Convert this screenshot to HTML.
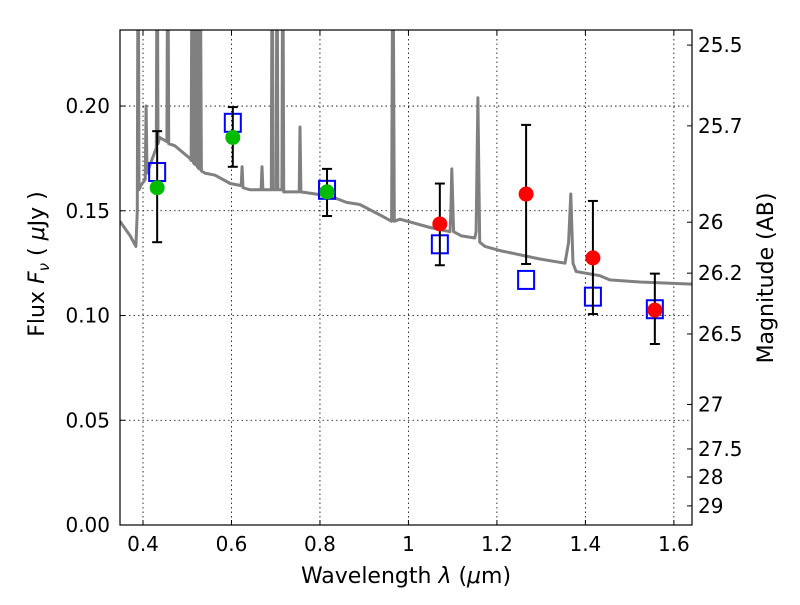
<!DOCTYPE html>
<html><head><meta charset="utf-8"><style>
body{margin:0;background:#fff;}
svg text{font-family:"DejaVu Sans","Liberation Sans",sans-serif;fill:#000;}
</style></head><body>
<svg id="chart" width="800" height="600" xmlns="http://www.w3.org/2000/svg">
<defs><clipPath id="clip"><rect x="120" y="30" width="572" height="495"/></clipPath></defs>
<rect x="120" y="30" width="572" height="495" fill="#fff"/>
<g id="grid"></g>
<g id="spec" clip-path="url(#clip)"></g>
<g id="marks" clip-path="url(#clip)"></g>
<rect x="120" y="30" width="572" height="495" fill="none" stroke="#000" stroke-width="1.2"/>
<g id="axes"></g>
<text x="406" y="583" font-size="22" text-anchor="middle">Wavelength  <tspan font-style="italic">λ</tspan> (<tspan font-style="italic">μ</tspan>m)</text>
<text transform="translate(44,264) rotate(-90)" font-size="22" text-anchor="middle">Flux  <tspan font-style="italic">F</tspan><tspan font-style="italic" font-size="15" dy="5">ν</tspan><tspan dy="-5">  (  </tspan><tspan font-style="italic">μ</tspan>Jy )</text>
<text transform="translate(773,278) rotate(-90)" font-size="22" text-anchor="middle">Magnitude (AB)</text>
</svg>
<script>
const xTicks=[0.4,0.6,0.8,1.0,1.2,1.4,1.6];
const xTickLabels=["0.4","0.6","0.8","1","1.2","1.4","1.6"];
const yTicks=[0,0.05,0.10,0.15,0.20];
const yTickLabels=["0.00","0.05","0.10","0.15","0.20"];
const magTicks=[25.5,25.7,26,26.2,26.5,27,27.5,28,29];
const magTickLabels=["25.5","25.7","26","26.2","26.5","27","27.5","28","29"];
const specWl=[0.348,0.371,0.384,0.387,0.389,0.391,0.395,0.405,0.407,0.409,0.416,0.430,0.432,0.434,0.438,0.454,0.456,0.458,0.472,0.506,0.509,0.511,0.514,0.518,0.520,0.523,0.527,0.529,0.532,0.540,0.563,0.597,0.622,0.624,0.626,0.642,0.667,0.669,0.671,0.690,0.692,0.694,0.701,0.703,0.705,0.714,0.716,0.718,0.730,0.753,0.755,0.757,0.790,0.823,0.860,0.890,0.936,0.962,0.965,0.968,0.981,1.049,1.094,1.096,1.098,1.102,1.120,1.150,1.153,1.157,1.161,1.173,1.207,1.297,1.354,1.362,1.367,1.372,1.379,1.433,1.455,1.523,1.641];
const specFlux=[0.145,0.138,0.133,0.15,0.30,0.16,0.162,0.165,0.20,0.168,0.172,0.18,0.30,0.182,0.185,0.183,0.30,0.182,0.181,0.175,0.174,0.30,0.173,0.172,0.30,0.171,0.170,0.30,0.169,0.168,0.167,0.163,0.162,0.171,0.161,0.160,0.160,0.171,0.160,0.160,0.30,0.160,0.160,0.30,0.160,0.160,0.30,0.159,0.159,0.159,0.190,0.159,0.158,0.157,0.154,0.153,0.148,0.145,0.30,0.145,0.146,0.142,0.140,0.150,0.170,0.140,0.138,0.137,0.140,0.204,0.135,0.133,0.131,0.127,0.125,0.135,0.158,0.125,0.121,0.119,0.117,0.116,0.115];
const greenWl=[0.432,0.603,0.816];
const greenFlux=[0.161,0.185,0.159];
const greenErrLo=[0.135,0.171,0.1475];
const greenErrHi=[0.188,0.1995,0.170];
const redWl=[1.071,1.266,1.417,1.557];
const redFlux=[0.1437,0.158,0.1275,0.1026];
const redErrLo=[0.124,0.1246,0.1007,0.0864];
const redErrHi=[0.163,0.191,0.1547,0.120];
const modelWl=[0.432,0.603,0.816,1.071,1.266,1.417,1.557];
const modelFlux=[0.1685,0.192,0.160,0.134,0.117,0.109,0.103];

const X0=120,X1=692,Y0=525,Y1=30,xmin=0.348,xmax=1.641,ymin=0,ymax=0.2363;
const sx=v=>X0+(v-xmin)/(xmax-xmin)*(X1-X0);
const sy=v=>Y0-(v-ymin)/(ymax-ymin)*(Y0-Y1);
const NS="http://www.w3.org/2000/svg";
function mk(tag,attrs,parent){const e=document.createElementNS(NS,tag);for(const k in attrs)e.setAttribute(k,attrs[k]);parent.appendChild(e);return e;}
const grid=document.getElementById('grid'),axes=document.getElementById('axes'),spec=document.getElementById('spec'),marks=document.getElementById('marks');
xTicks.forEach((t,i)=>{const x=sx(t);
 let g=mk('line',{x1:x,x2:x,y1:Y1,y2:Y0,stroke:'#000','stroke-width':0.8,'stroke-dasharray':'1.5,3'},grid);
 
 let a=mk('line',{x1:x,x2:x,y1:Y0,y2:Y0-5,stroke:'#000'},axes);
 
 let b=mk('line',{x1:x,x2:x,y1:Y1,y2:Y1+5,stroke:'#000'},axes);
 
 let tx=mk('text',{x:x,y:Y0+26,'font-size':20,'text-anchor':'middle'},axes);tx.textContent=xTickLabels[i];
 });
yTicks.forEach((t,i)=>{const y=sy(t);
 let g=mk('line',{x1:X0,x2:X1,y1:y,y2:y,stroke:'#000','stroke-width':0.8,'stroke-dasharray':'1.5,3'},grid);
 
 let a=mk('line',{x1:X0,x2:X0+5,y1:y,y2:y,stroke:'#000'},axes);
 
 let tx=mk('text',{x:X0-10,y:y+7,'font-size':20,'text-anchor':'end'},axes);tx.textContent=yTickLabels[i];
 });
magTicks.forEach((m,i)=>{const y=sy(Math.pow(10,(23.9-m)/2.5));
 let a=mk('line',{x1:X1,x2:X1-5,y1:y,y2:y,stroke:'#000'},axes);
 
 let tx=mk('text',{x:X1+6,y:y+7,'font-size':20,'text-anchor':'start'},axes);tx.textContent=magTickLabels[i];
 });
const pts=specWl.map((w,i)=>sx(w).toFixed(1)+','+sy(specFlux[i]).toFixed(1)).join(' ');
let pl=mk('polyline',{points:pts,fill:'none',stroke:'#808080','stroke-width':3,'stroke-linejoin':'round'},spec);

function errbar(w,lo,hi){const x=sx(w);
 let l=mk('line',{x1:x,x2:x,y1:sy(lo),y2:sy(hi),stroke:'#000','stroke-width':2},marks);
 
 [lo,hi].forEach(v=>{let c=mk('line',{x1:x-5,x2:x+5,y1:sy(v),y2:sy(v),stroke:'#000','stroke-width':2},marks);
 });}
modelWl.forEach((w,i)=>{let r=mk('rect',{x:sx(w)-8,y:sy(modelFlux[i])-9,width:16,height:18,fill:'none',stroke:'#0000ff','stroke-width':2},marks);
 });
greenWl.forEach((w,i)=>{errbar(w,greenErrLo[i],greenErrHi[i]);
 let c=mk('circle',{cx:sx(w),cy:sy(greenFlux[i]),r:7.5,fill:'#00bb00'},marks);
 });
redWl.forEach((w,i)=>{errbar(w,redErrLo[i],redErrHi[i]);
 let c=mk('circle',{cx:sx(w),cy:sy(redFlux[i]),r:7.5,fill:'#ff0000'},marks);
 });
</script>
</body></html>
